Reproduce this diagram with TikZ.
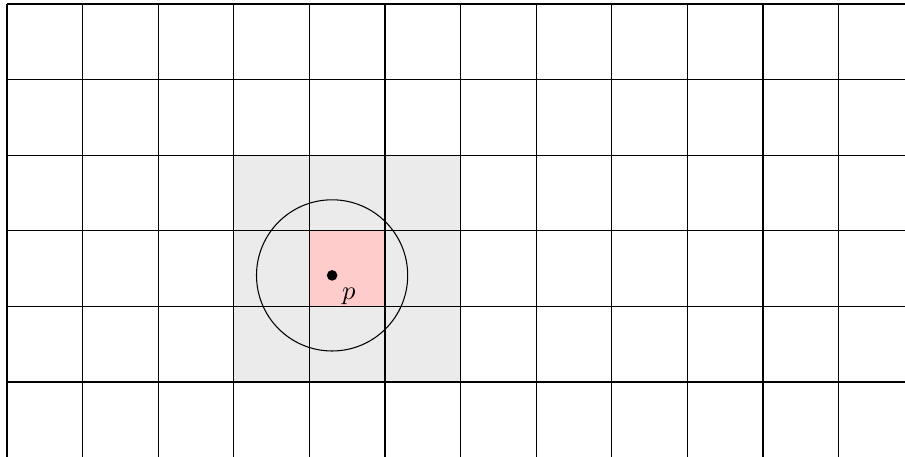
\documentclass[tikz,border=0pt]{standalone}
\begin{document}
\begin{tikzpicture}[
  cellgray/.style={fill=black!8},
  cellpink/.style={fill=red!20},
  gridline/.style={draw=black, line width=0.4pt},
  pdot/.style={circle, fill=black, inner sep=0pt, minimum size=4pt}
]
\useasboundingbox (-0.093,0.008) rectangle (11.878,6.053);
\fill[cellgray] (3,1) rectangle (6,4);
\fill[cellpink] (4,2) rectangle (5,3);
\draw[gridline] (0,0) grid (12,6);
\node[pdot] (p) at (4.3,2.41) {};
\draw (p.center) circle (1);
\node[anchor=north west, inner sep=2pt, yshift=-1pt] (plabel) at (p.south east) {$p$};
\end{tikzpicture}
\end{document}
